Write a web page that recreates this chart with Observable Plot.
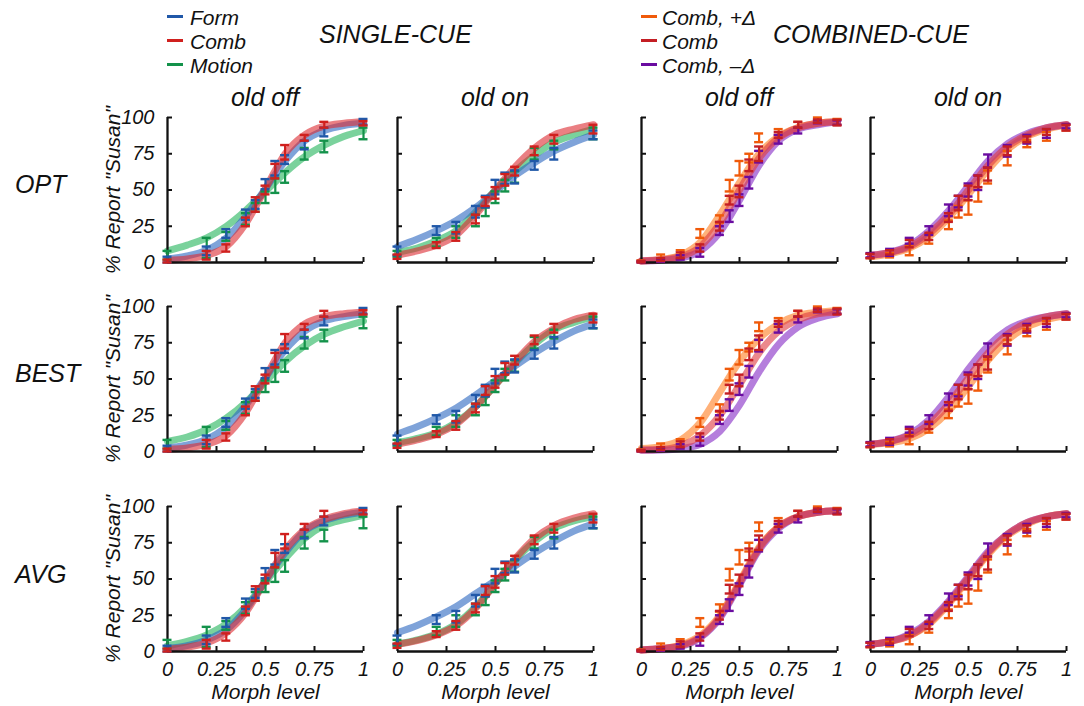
<!DOCTYPE html>
<html><head><meta charset="utf-8">
<script src="https://cdn.jsdelivr.net/npm/d3@7"></script>
<script src="https://cdn.jsdelivr.net/npm/@observablehq/plot@0.6"></script>
<style>
body{margin:0;background:#fff;}
#fig{position:relative;width:1084px;height:706px;font-family:"Liberation Sans",Arial,sans-serif;font-style:italic;color:#111;overflow:hidden;}
#fig svg{position:absolute;overflow:visible;}
.t{position:absolute;white-space:nowrap;}
.sw{position:absolute;height:3px;width:16px;}
</style></head>
<body><div id="fig"></div>
<script>
// ---------- tick labels / categories ----------
const xTicks = [0, 0.25, 0.5, 0.75, 1];
const yTicks = [0, 25, 50, 75, 100];
const colTitles = ["old off", "old on", "old off", "old on"];
const rowTitles = ["OPT", "BEST", "AVG"];
const singleNames = ["Form", "Comb", "Motion"];
const combNames = ["Comb, +Δ", "Comb", "Comb, –Δ"];
const xLabel = "Morph level";
const yLabel = '% Report "Susan"';

// ---------- morph levels ----------
const xSingle = [0, 0.2, 0.3, 0.4, 0.45, 0.5, 0.55, 0.6, 0.7, 0.8, 1];
const xComb = [0, 0.1, 0.2, 0.3, 0.4, 0.45, 0.5, 0.55, 0.6, 0.7, 0.8, 0.9, 1];
const xFit = [0, 0.1, 0.2, 0.3, 0.4, 0.5, 0.6, 0.7, 0.8, 0.9, 1];

// ---------- measured data (% "Susan", mean and half error bar) ----------
// single-cue, old off
const offForm = [2, 8, 20, 33, 40, 54, 65, 71, 81, 90, 97];
const offFormErr = [2, 3, 3, 3.5, 3, 3.5, 5, 3, 3, 3, 2];
const offComb = [1, 5, 10, 28, 40, 50, 63, 76, 86, 95, 96];
const offCombErr = [1, 3, 2.5, 3, 5, 3, 5, 5, 2, 2, 1.5];
const offMotion = [5, 10, 18, 30, 38, 45, 53, 59, 75, 80, 89];
const offMotionErr = [3, 7, 3, 4, 3, 4, 5, 4, 4, 4, 4];
// single-cue, old on
const onForm = [8, 22, 24, 35, 42, 52, 58, 59, 67, 75, 88];
const onFormErr = [3, 3, 4, 4, 4, 5, 4, 4.5, 3, 4, 3];
const onComb = [4, 12, 18, 30, 42, 48, 57, 63, 77, 85, 92];
const onCombErr = [1.5, 2, 3, 3, 3, 4, 4, 3, 3, 3, 3];
const onMotion = [6, 14, 21, 29, 35, 45, 53, 59, 75, 81, 89];
const onMotionErr = [2, 3, 4, 4, 3, 4, 4, 4, 4, 3, 4];
// combined-cue, old off
const offPlus = [1, 3.5, 6, 20, 30, 53, 65, 72, 86, 90, 95, 98.5, 97];
const offPlusErr = [0.5, 2, 2.5, 3, 2.5, 4, 5, 3, 3, 2, 2, 1.5, 2];
const offC = [0.5, 2, 5, 10, 25, 43, 49, 67, 75, 88, 95, 97.5, 96.5];
const offCErr = [0.5, 1, 2, 2.5, 3, 3, 4, 4, 5, 2, 2, 1.2, 2];
const offMinus = [0.5, 1.5, 3.5, 7, 22, 32, 43, 55, 73, 85, 91, 97, 96.5];
const offMinusErr = [0.5, 1, 1.5, 3, 3, 4, 4, 4, 4, 3, 2, 1, 1.5];
// combined-cue, old on
const onPlus = [4.5, 5, 8.5, 16, 26, 35, 38, 47, 59, 72, 82, 87, 93];
const onPlusErr = [1.5, 1.5, 3.5, 3, 3, 4, 5, 5, 4.5, 5, 2.5, 3, 2];
const onC = [4.5, 7, 13, 18, 31, 41, 48, 56, 61, 77, 85, 90, 93];
const onCErr = [1.5, 1.5, 2.5, 2.5, 3, 5, 5, 4, 4.5, 3, 2, 2, 2];
const onMinus = [5, 7, 15, 22, 36, 42, 50, 55, 70, 77, 85, 89, 94];
const onMinusErr = [1.5, 2.4, 2, 3, 4, 4, 4.5, 5, 4.5, 4, 3, 3, 1.5];

// ---------- fitted curves (read at xFit) ----------
const optOffForm = [2.5, 4.5, 8.5, 17, 32, 51, 70, 84, 91, 94.5, 96];
const optOffComb = [1.5, 2.5, 5, 11, 27, 51, 75, 88, 94, 96, 97];
const optOffMotion = [8, 12, 17, 25, 36, 49, 62, 73, 81, 87, 91];
const optOnForm = [11, 16, 22, 29, 38, 49, 60, 69, 77, 83, 88];
const optOnComb = [5, 8, 12, 19, 33, 50, 66, 79, 88, 92, 95];
const optOnMotion = [7, 10, 15, 22, 35, 50, 63, 74, 83, 88, 92];
const optOffPlus = [1, 2, 5, 14, 33, 55, 75, 87, 93, 96, 97];
const optOffC = [1, 2, 4, 11, 27, 50, 72, 86, 93, 96, 97];
const optOffMinus = [1, 1.5, 3, 8, 21, 43, 67, 84, 92, 95, 97];
const optOnPlus = [4, 6, 10, 18, 31, 47, 64, 78, 87, 92, 95];
const optOnC = [5, 7, 11, 20, 33, 50, 67, 80, 88, 93, 95];
const optOnMinus = [5, 7, 12, 22, 36, 53, 70, 82, 89, 93, 95];

const bestOffForm = [2.5, 4.5, 8.5, 17, 32, 51, 70, 83, 90, 93, 95];
const bestOffComb = [1.5, 2.5, 5, 11, 27, 51, 75, 88, 93, 95, 96];
const bestOffMotion = [7, 10, 15, 23, 34, 48, 62, 73, 81, 86, 90];
const bestOnForm = [12, 17, 23, 30, 39, 49, 59, 68, 76, 83, 88];
const bestOnComb = [5, 8, 12, 19, 31, 46, 62, 76, 85, 91, 94];
const bestOnMotion = [6, 9, 13, 20, 31, 46, 61, 74, 84, 89, 93];
const bestOffPlus = [2, 3.5, 8, 20, 41, 62, 78, 88, 94, 96, 97];
const bestOffC = [1, 1.5, 4, 11, 25, 46, 68, 83, 91, 95, 96];
const bestOffMinus = [0.8, 1, 2, 5, 14, 32, 55, 74, 86, 92, 95];
const bestOnPlus = [5, 6, 9, 16, 28, 45, 63, 77, 86, 91, 94];
const bestOnC = [5, 7, 11, 19, 33, 51, 68, 81, 89, 93, 95];
const bestOnMinus = [5, 7, 12, 22, 38, 57, 73, 84, 90, 93, 95];

const avgOffForm = [2, 4, 8, 15, 29, 49, 68, 83, 90, 94, 96];
const avgOffComb = [1.5, 3, 6, 13, 27, 49, 70, 84, 91, 95, 97];
const avgOffMotion = [4, 7, 11.5, 19, 31, 48, 64, 78, 87, 91, 94];
const avgOnForm = [13, 18, 24, 31, 40, 49, 59, 68, 76, 83, 88];
const avgOnComb = [5, 7.5, 11.5, 18, 30, 47, 64, 78, 87, 92, 95];
const avgOnMotion = [5, 8, 12, 19, 31, 47, 63, 76, 85, 90, 93];
const avgOffPlus = [1, 2, 4.5, 11, 25, 48, 72, 86, 93, 96, 97];
const avgOffC = [1, 2, 4, 10, 24, 47, 71, 86, 93, 96, 97];
const avgOffMinus = [1, 2, 3.5, 9.5, 23, 46, 70, 85, 93, 96, 97];
const avgOnPlus = [5, 7, 11, 19, 33, 50, 67, 80, 88, 93, 95];
const avgOnC = [5, 7, 11, 20, 34, 51, 68, 81, 89, 93, 95];
const avgOnMinus = [5, 7, 12, 21, 35, 52, 69, 81, 89, 93, 95];

// ---------- colours ----------
const COL = {
  form: {dot: "#2058a8", band: "#2a66c0"},
  comb: {dot: "#d0201e", band: "#dc2a30"},
  motion: {dot: "#13924a", band: "#22b45a"},
  plus: {dot: "#f05a0a", band: "#ff7d20"},
  cc: {dot: "#c41e24", band: "#e03a40"},
  minus: {dot: "#6a0ca0", band: "#8428c4"}
};
const INK = "#111";

// ---------- panel specs (first = drawn first) ----------
const S = (c, xs, mean, err, fit) => ({c, xs, mean, err, fit});
const panels = [
  [[S("motion", xSingle, offMotion, offMotionErr, optOffMotion), S("form", xSingle, offForm, offFormErr, optOffForm), S("comb", xSingle, offComb, offCombErr, optOffComb)],
   [S("motion", xSingle, onMotion, onMotionErr, optOnMotion), S("form", xSingle, onForm, onFormErr, optOnForm), S("comb", xSingle, onComb, onCombErr, optOnComb)],
   [S("plus", xComb, offPlus, offPlusErr, optOffPlus), S("minus", xComb, offMinus, offMinusErr, optOffMinus), S("cc", xComb, offC, offCErr, optOffC)],
   [S("plus", xComb, onPlus, onPlusErr, optOnPlus), S("minus", xComb, onMinus, onMinusErr, optOnMinus), S("cc", xComb, onC, onCErr, optOnC)]],
  [[S("motion", xSingle, offMotion, offMotionErr, bestOffMotion), S("form", xSingle, offForm, offFormErr, bestOffForm), S("comb", xSingle, offComb, offCombErr, bestOffComb)],
   [S("motion", xSingle, onMotion, onMotionErr, bestOnMotion), S("form", xSingle, onForm, onFormErr, bestOnForm), S("comb", xSingle, onComb, onCombErr, bestOnComb)],
   [S("plus", xComb, offPlus, offPlusErr, bestOffPlus), S("minus", xComb, offMinus, offMinusErr, bestOffMinus), S("cc", xComb, offC, offCErr, bestOffC)],
   [S("plus", xComb, onPlus, onPlusErr, bestOnPlus), S("minus", xComb, onMinus, onMinusErr, bestOnMinus), S("cc", xComb, onC, onCErr, bestOnC)]],
  [[S("motion", xSingle, offMotion, offMotionErr, avgOffMotion), S("form", xSingle, offForm, offFormErr, avgOffForm), S("comb", xSingle, offComb, offCombErr, avgOffComb)],
   [S("motion", xSingle, onMotion, onMotionErr, avgOnMotion), S("form", xSingle, onForm, onFormErr, avgOnForm), S("comb", xSingle, onComb, onCombErr, avgOnComb)],
   [S("plus", xComb, offPlus, offPlusErr, avgOffPlus), S("minus", xComb, offMinus, offMinusErr, avgOffMinus), S("cc", xComb, offC, offCErr, avgOffC)],
   [S("plus", xComb, onPlus, onPlusErr, avgOnPlus), S("minus", xComb, onMinus, onMinusErr, avgOnMinus), S("cc", xComb, onC, onCErr, avgOnC)]]
];

// ---------- layout ----------
const fig = document.getElementById("fig");
const colX = [167, 397, 641, 870];
const rowY = [117, 306, 506];
const PW = 196, PH = 145;

function addText(txt, left, top, size, extra = {}) {
  const d = document.createElement("div");
  d.className = "t";
  d.textContent = txt;
  Object.assign(d.style, {left: left + "px", top: top + "px", fontSize: size + "px", lineHeight: Math.round(size * 1.2) + "px"}, extra);
  fig.appendChild(d);
  return d;
}

function makePanel(ri, ci) {
  const ML = ci === 0 ? 70 : 12, MR = 12, MT = 10, MB = ri === 2 ? 60 : 10;
  const series = panels[ri][ci];
  const marks = [];
  for (const s of series) {
    marks.push(Plot.line(xFit.map((x, i) => ({x, y: s.fit[i]})), {
      x: "x", y: "y", stroke: COL[s.c].band, strokeWidth: 7, strokeOpacity: 0.6, curve: "monotone-x"
    }));
  }
  marks.push(Plot.ruleY([0], {stroke: INK, strokeWidth: 2.3}));
  marks.push(Plot.ruleX([0], {stroke: INK, strokeWidth: 2.3}));
  marks.push(Plot.tickX(xTicks.slice(1), {x: d => d, stroke: INK, strokeWidth: 2, insetTop: PH - 5}));
  marks.push(Plot.tickY(yTicks.slice(1), {y: d => d, stroke: INK, strokeWidth: 2, insetRight: PW - 5}));
  for (const s of series) {
    const pts = s.xs.map((x, i) => ({x, lo: s.mean[i] - s.err[i], hi: s.mean[i] + s.err[i]}));
    const c = COL[s.c].dot;
    marks.push(Plot.ruleX(pts, {x: "x", y1: "lo", y2: "hi", stroke: c, strokeWidth: 2.2}));
    marks.push(Plot.ruleY(pts, {y: "lo", x1: "x", x2: "x", insetLeft: -4.5, insetRight: -4.5, stroke: c, strokeWidth: 2.4}));
    marks.push(Plot.ruleY(pts, {y: "hi", x1: "x", x2: "x", insetLeft: -4.5, insetRight: -4.5, stroke: c, strokeWidth: 2.4}));
  }
  if (ci === 0) {
    marks.push(Plot.text(yTicks, {y: d => d, text: d => String(d), frameAnchor: "left", dx: -13, textAnchor: "end", lineAnchor: "middle", fontSize: 20, fill: INK}));
  }
  if (ri === 2) {
    marks.push(Plot.text(xTicks, {x: d => d, text: d => String(d), frameAnchor: "bottom", dy: 10, lineAnchor: "top", fontSize: 20, fill: INK}));
    marks.push(Plot.text([xLabel], {text: d => d, frameAnchor: "bottom", dy: 41, fontSize: 21, lineAnchor: "middle", fill: INK}));
  }
  const svg = Plot.plot({
    width: ML + PW + MR, height: MT + PH + MB,
    marginLeft: ML, marginRight: MR, marginTop: MT, marginBottom: MB,
    x: {domain: [0, 1], axis: null},
    y: {domain: [0, 100], axis: null},
    style: {fontFamily: "Liberation Sans, Arial, sans-serif", fontStyle: "italic", fontSize: "20px", color: INK, background: "transparent", overflow: "visible"},
    marks
  });
  svg.style.position = "absolute";
  svg.style.left = (colX[ci] - ML) + "px";
  svg.style.top = (rowY[ri] - MT) + "px";
  svg.style.maxWidth = "none";
  fig.appendChild(svg);
  if (ci === 0) {
    const d = addText(yLabel, 112, rowY[ri] + PH / 2, 21);
    d.style.transform = "translate(-50%, -50%) rotate(-90deg)";
  }
}

for (let r = 0; r < 3; r++) for (let c = 0; c < 4; c++) makePanel(r, c);

// ---------- titles ----------
colTitles.forEach((t, i) => {
  const d = addText(t, colX[i] + PW / 2, 82, 25);
  d.style.transform = "translateX(-50%)";
});
const rowCY = [184, 372.5, 574];
rowTitles.forEach((t, i) => addText(t, 15, rowCY[i] - 14.7, 25));
addText("SINGLE-CUE", 319, 18.6, 25);
addText("COMBINED-CUE", 773, 18.6, 25);

// ---------- legends ----------
const singleKeys = ["form", "comb", "motion"];
const combKeys = ["plus", "cc", "minus"];
[0, 1, 2].forEach(i => {
  const y = 16 + 24 * i;
  let sw = document.createElement("div"); sw.className = "sw";
  Object.assign(sw.style, {left: "167px", top: (y - 1.5) + "px", background: COL[singleKeys[i]].dot});
  fig.appendChild(sw);
  addText(singleNames[i], 190, y - 11, 21);
  sw = document.createElement("div"); sw.className = "sw";
  Object.assign(sw.style, {left: "641px", top: (y - 1.5) + "px", background: COL[combKeys[i]].dot});
  fig.appendChild(sw);
  addText(combNames[i], 662, y - 11, 21);
});
</script></body></html>
